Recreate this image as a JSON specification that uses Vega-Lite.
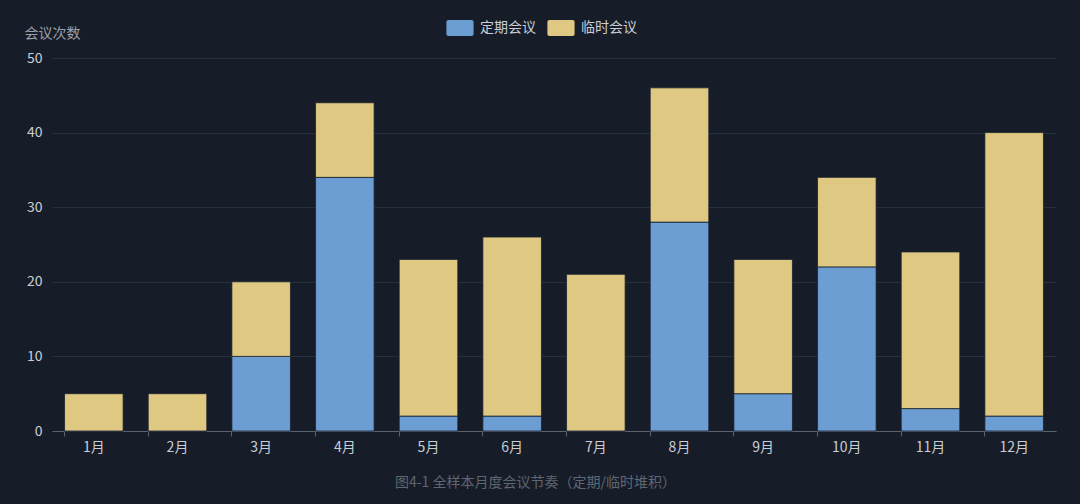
{
  "$schema": "https://vega.github.io/schema/vega-lite/v6.json",
  "autosize": {"type": "none"},
  "width": 1004,
  "height": 373,
  "padding": {"left": 52, "top": 58, "right": 24, "bottom": 73},
  "background": "#171d28",
  "config": {
    "view": {"stroke": null},
    "font": "Noto Sans CJK SC",
    "axis": {"labelFont": "Noto Sans CJK SC", "titleFont": "Noto Sans CJK SC"},
    "legend": {"labelFont": "Noto Sans CJK SC"}
  },
  "data": {
    "values": [
      {"month": "1月", "type": "定期会议", "count": 0},
      {"month": "1月", "type": "临时会议", "count": 5},
      {"month": "2月", "type": "定期会议", "count": 0},
      {"month": "2月", "type": "临时会议", "count": 5},
      {"month": "3月", "type": "定期会议", "count": 10},
      {"month": "3月", "type": "临时会议", "count": 10},
      {"month": "4月", "type": "定期会议", "count": 34},
      {"month": "4月", "type": "临时会议", "count": 10},
      {"month": "5月", "type": "定期会议", "count": 2},
      {"month": "5月", "type": "临时会议", "count": 21},
      {"month": "6月", "type": "定期会议", "count": 2},
      {"month": "6月", "type": "临时会议", "count": 24},
      {"month": "7月", "type": "定期会议", "count": 0},
      {"month": "7月", "type": "临时会议", "count": 21},
      {"month": "8月", "type": "定期会议", "count": 28},
      {"month": "8月", "type": "临时会议", "count": 18},
      {"month": "9月", "type": "定期会议", "count": 5},
      {"month": "9月", "type": "临时会议", "count": 18},
      {"month": "10月", "type": "定期会议", "count": 22},
      {"month": "10月", "type": "临时会议", "count": 12},
      {"month": "11月", "type": "定期会议", "count": 3},
      {"month": "11月", "type": "临时会议", "count": 21},
      {"month": "12月", "type": "定期会议", "count": 2},
      {"month": "12月", "type": "临时会议", "count": 38}
    ]
  },
  "layer": [
    {
      "mark": {"type": "bar", "stroke": "#1b2230", "strokeWidth": 0.8},
      "encoding": {
        "x": {
          "field": "month",
          "type": "ordinal",
          "sort": null,
          "scale": {"paddingInner": 0.3, "paddingOuter": 0.15},
          "axis": {
            "title": "图4-1 全样本月度会议节奏（定期/临时堆积）",
            "titleColor": "#5f6673",
            "titleFontSize": 14,
            "titleFontWeight": "normal",
            "titlePadding": 21,
            "titleX": 483,
            "titleAlign": "center",
            "labelAngle": 0,
            "labelColor": "#c9ced6",
            "labelFontSize": 14,
            "labelPadding": 9,
            "ticks": false,
            "domainColor": "#5a6270",
            "domainWidth": 1
          }
        },
        "y": {
          "field": "count",
          "type": "quantitative",
          "stack": "zero",
          "scale": {"domain": [0, 50]},
          "axis": {
            "title": "会议次数",
            "titleAngle": 0,
            "titleAlign": "left",
            "titleBaseline": "middle",
            "titleX": -28,
            "titleY": -25,
            "titleColor": "#9aa1ad",
            "titleFontSize": 14,
            "titleFontWeight": "normal",
            "values": [0, 10, 20, 30, 40, 50],
            "labelColor": "#c9ced6",
            "labelFontSize": 14,
            "labelPadding": 10,
            "ticks": false,
            "domain": false,
            "gridColor": "#263040",
            "gridWidth": 1
          }
        },
        "color": {
          "field": "type",
          "type": "nominal",
          "scale": {"domain": ["定期会议", "临时会议"], "range": ["#6c9dd3", "#dfc882"]},
          "legend": {
            "title": null,
            "orient": "none",
            "direction": "horizontal",
            "legendX": 400,
            "legendY": -38,
            "symbolType": "M-1.45,-1 L1.45,-1 Q1.7,-1 1.7,-0.75 L1.7,0.75 Q1.7,1 1.45,1 L-1.45,1 Q-1.7,1 -1.7,0.75 L-1.7,-0.75 Q-1.7,-1 -1.45,-1 Z",
            "symbolSize": 256,
            "symbolStrokeWidth": 0,
            "symbolOpacity": 1,
            "labelColor": "#c9ced6",
            "labelFontSize": 14,
            "labelOffset": 12,
            "columnPadding": 11
          }
        },
        "order": {"field": "type", "sort": "descending"}
      }
    },
    {
      "mark": {"type": "tick", "opacity": 0},
      "encoding": {
        "x": {
          "field": "month",
          "type": "ordinal",
          "sort": null,
          "axis": {
            "orient": "bottom",
            "bandPosition": 0,
            "labels": false,
            "domain": false,
            "title": null,
            "ticks": true,
            "tickColor": "#5a6270",
            "tickSize": 5,
            "grid": false
          }
        }
      }
    }
  ],
  "resolve": {"axis": {"x": "independent"}}
}
